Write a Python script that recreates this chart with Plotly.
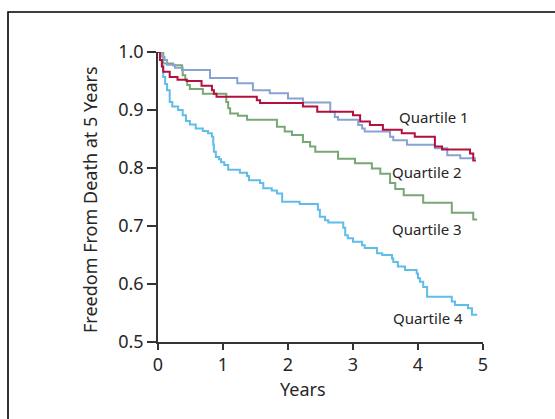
import plotly.graph_objects as go

# Kaplan-Meier style step data (years, survival)
q1_t = [0, 0.03, 0.06, 0.08, 0.18, 0.30, 0.44, 0.67, 0.83, 0.86, 0.90, 1.52, 1.57, 2.23, 2.45, 3.00, 3.11, 3.26, 3.46, 3.75, 3.95, 4.26, 4.37, 4.80, 4.85, 4.89]
q1_s = [1.0, 0.986, 0.975, 0.966, 0.957, 0.952, 0.950, 0.942, 0.934, 0.928, 0.923, 0.917, 0.912, 0.906, 0.897, 0.891, 0.880, 0.874, 0.866, 0.860, 0.854, 0.837, 0.832, 0.825, 0.813, 0.813]

q2_t = [0, 0.05, 0.10, 0.14, 0.26, 0.38, 0.80, 1.22, 1.46, 1.72, 2.00, 2.23, 2.65, 2.72, 2.77, 3.08, 3.14, 3.18, 3.57, 3.62, 3.83, 4.26, 4.45, 4.65, 4.89]
q2_s = [1.0, 0.992, 0.986, 0.978, 0.973, 0.969, 0.955, 0.946, 0.934, 0.929, 0.920, 0.913, 0.897, 0.888, 0.883, 0.874, 0.868, 0.863, 0.854, 0.848, 0.840, 0.834, 0.822, 0.817, 0.817]

q3_t = [0, 0.08, 0.23, 0.37, 0.38, 0.42, 0.45, 0.49, 0.69, 1.05, 1.08, 1.11, 1.23, 1.37, 1.83, 1.95, 2.06, 2.23, 2.34, 2.42, 2.77, 3.03, 3.29, 3.42, 3.57, 3.65, 3.78, 4.08, 4.52, 4.85, 4.91]
q3_s = [1.0, 0.980, 0.977, 0.969, 0.960, 0.952, 0.943, 0.936, 0.928, 0.914, 0.903, 0.894, 0.890, 0.883, 0.871, 0.863, 0.857, 0.845, 0.837, 0.828, 0.816, 0.808, 0.799, 0.790, 0.774, 0.764, 0.753, 0.740, 0.723, 0.711, 0.711]

q4_t = [0, 0.03, 0.06, 0.08, 0.11, 0.14, 0.18, 0.22, 0.31, 0.38, 0.43, 0.49, 0.58, 0.69, 0.77, 0.83, 0.85, 0.86, 0.89, 0.94, 0.97, 1.02, 1.08, 1.26, 1.37, 1.40, 1.57, 1.62, 1.75, 1.83, 1.91, 2.18, 2.46, 2.49, 2.57, 2.62, 2.85, 2.88, 2.92, 3.00, 3.14, 3.18, 3.37, 3.45, 3.60, 3.62, 3.69, 3.80, 3.98, 4.00, 4.03, 4.08, 4.14, 4.52, 4.57, 4.77, 4.83, 4.91]
q4_s = [1.0, 0.986, 0.975, 0.957, 0.945, 0.934, 0.914, 0.906, 0.900, 0.891, 0.881, 0.875, 0.868, 0.864, 0.860, 0.854, 0.840, 0.828, 0.819, 0.815, 0.810, 0.805, 0.797, 0.792, 0.786, 0.779, 0.774, 0.765, 0.761, 0.756, 0.742, 0.738, 0.728, 0.716, 0.710, 0.706, 0.697, 0.684, 0.679, 0.673, 0.667, 0.662, 0.653, 0.650, 0.644, 0.638, 0.630, 0.624, 0.618, 0.610, 0.604, 0.595, 0.578, 0.570, 0.564, 0.558, 0.547, 0.547]

series_names = ["Quartile 1", "Quartile 2", "Quartile 3", "Quartile 4"]
series_colors = ["#b3103d", "#87a3d3", "#77a774", "#5fbdea"]
label_x = [4.25, 4.14, 4.14, 4.15]
label_y = [0.888, 0.793, 0.695, 0.541]

x_ticks = [0, 1, 2, 3, 4, 5]
y_ticks = [0.5, 0.6, 0.7, 0.8, 0.9, 1.0]
y_tick_labels = ["0.5", "0.6", "0.7", "0.8", "0.9", "1.0"]

FONT = "Noto Sans"
TXT = "#262626"

fig = go.Figure()
data = [(q1_t, q1_s), (q2_t, q2_s), (q3_t, q3_s), (q4_t, q4_s)]
for i in [3, 2, 1, 0]:
    t, s = data[i]
    fig.add_trace(go.Scatter(x=t, y=s, mode="lines", line=dict(color=series_colors[i], width=2, shape="hv"),
                             name=series_names[i], showlegend=False, hoverinfo="skip"))

for i in range(4):
    fig.add_annotation(x=label_x[i], y=label_y[i], xref="x", yref="y", text=series_names[i],
                       xanchor="center", yanchor="middle",
                       showarrow=False, font=dict(family=FONT, size=15, color=TXT))

# axis titles
fig.add_annotation(x=(303 - 158) / 325, y=(342 - 389) / 290, xref="paper", yref="paper", text="Years",
                   xanchor="center", yanchor="middle",
                   showarrow=False, font=dict(family=FONT, size=18, color=TXT))
fig.add_annotation(x=(90 - 158) / 325, y=(342 - 200) / 290, xref="paper", yref="paper",
                   text="Freedom From Death at 5 Years", xanchor="center", yanchor="middle",
                   textangle=-90, showarrow=False, font=dict(family=FONT, size=18, color=TXT))

# outer frame
fig.add_shape(type="rect", xref="paper", yref="paper",
              x0=(8 - 158) / 325, x1=(560 - 158) / 325, y0=(342 - 430) / 290, y1=(342 - 12) / 290,
              line=dict(color="#000000", width=1.6), fillcolor="rgba(0,0,0,0)", layer="below")

fig.update_layout(
    width=555, height=419,
    margin=dict(l=158, r=72, t=52, b=77),
    paper_bgcolor="white", plot_bgcolor="white",
    font=dict(family=FONT, size=17, color=TXT),
    xaxis=dict(range=[0, 5], tickvals=x_ticks, showgrid=False, zeroline=False, showline=True,
               linecolor="#333333", linewidth=1.5, ticks="outside", ticklen=6, tickcolor="#333333",
               tickwidth=1.5, tickfont=dict(family=FONT, size=18, color=TXT)),
    yaxis=dict(range=[0.5, 1.0], tickvals=y_ticks, ticktext=y_tick_labels, showgrid=False, zeroline=False,
               showline=True, linecolor="#333333", linewidth=1.5, ticks="outside", ticklen=9,
               tickcolor="#333333", tickwidth=1.5, tickfont=dict(family=FONT, size=18, color=TXT)),
)

fig.write_html("out.html", config={"displayModeBar": False},
               post_script="document.body.style.margin='0';")
